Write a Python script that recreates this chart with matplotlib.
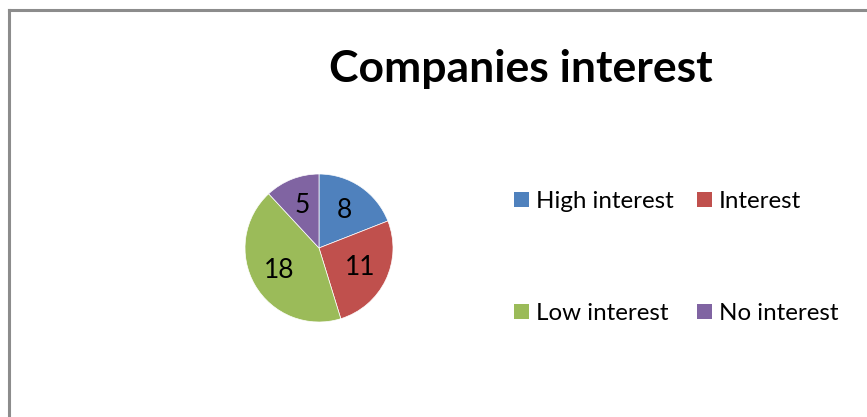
import matplotlib
matplotlib.use("Agg")
import matplotlib.pyplot as plt
from matplotlib.patches import Patch

plt.rcParams['font.family'] = ['Lato', 'DejaVu Sans']

# Data
categories = ["High interest", "Interest", "Low interest", "No interest"]
counts = [8, 11, 18, 5]
colors = ["#4F81BD", "#C0504D", "#9BBB59", "#8064A2"]

fig = plt.figure(figsize=(8.67, 4.17), dpi=100)
fig.patch.set_facecolor("white")

# chart frame (only top and left edge visible in the crop)
fig.add_artist(plt.Line2D([9 / 867, 9 / 867], [0, 1 - 9.5 / 417], color="#8c8c8c", lw=2.2))
fig.add_artist(plt.Line2D([9 / 867, 1], [1 - 9.5 / 417, 1 - 9.5 / 417], color="#8c8c8c", lw=2.2))

fig.text(521 / 867, 1 - 69 / 417, "Companies interest", ha="center", va="center",
         fontsize=32, fontweight="bold")

ax = fig.add_axes([(319 - 74) / 867, (417 - 322) / 417, 148 / 867, 148 / 417])
wedges, texts, autotexts = ax.pie(counts, colors=colors, startangle=90, counterclock=False,
                                  autopct=lambda p: "%d" % round(p * sum(counts) / 100),
                                  pctdistance=0.62, radius=1.0,
                                  wedgeprops=dict(edgecolor="white", linewidth=0.5))
for t in autotexts:
    t.set_fontsize(19)
    t.set_color("black")
ax.set_aspect("equal")
ax.set_xlim(-1, 1)
ax.set_ylim(-1, 1)

# legend fills column-wise, so reorder to get row-wise reading order
order = [0, 2, 1, 3]
handles = [Patch(facecolor=colors[i], edgecolor="none") for i in order]
labels = [categories[i] for i in order]
fig.legend(handles, labels, ncol=2, loc="upper left",
           bbox_to_anchor=(514 / 867, 1 - 191 / 417), frameon=False,
           fontsize=17.4, borderpad=0, borderaxespad=0,
           handlelength=0.6, handleheight=0.6, handletextpad=0.29,
           columnspacing=1.0, labelspacing=3.76)

fig.savefig("out.png", dpi=100)
